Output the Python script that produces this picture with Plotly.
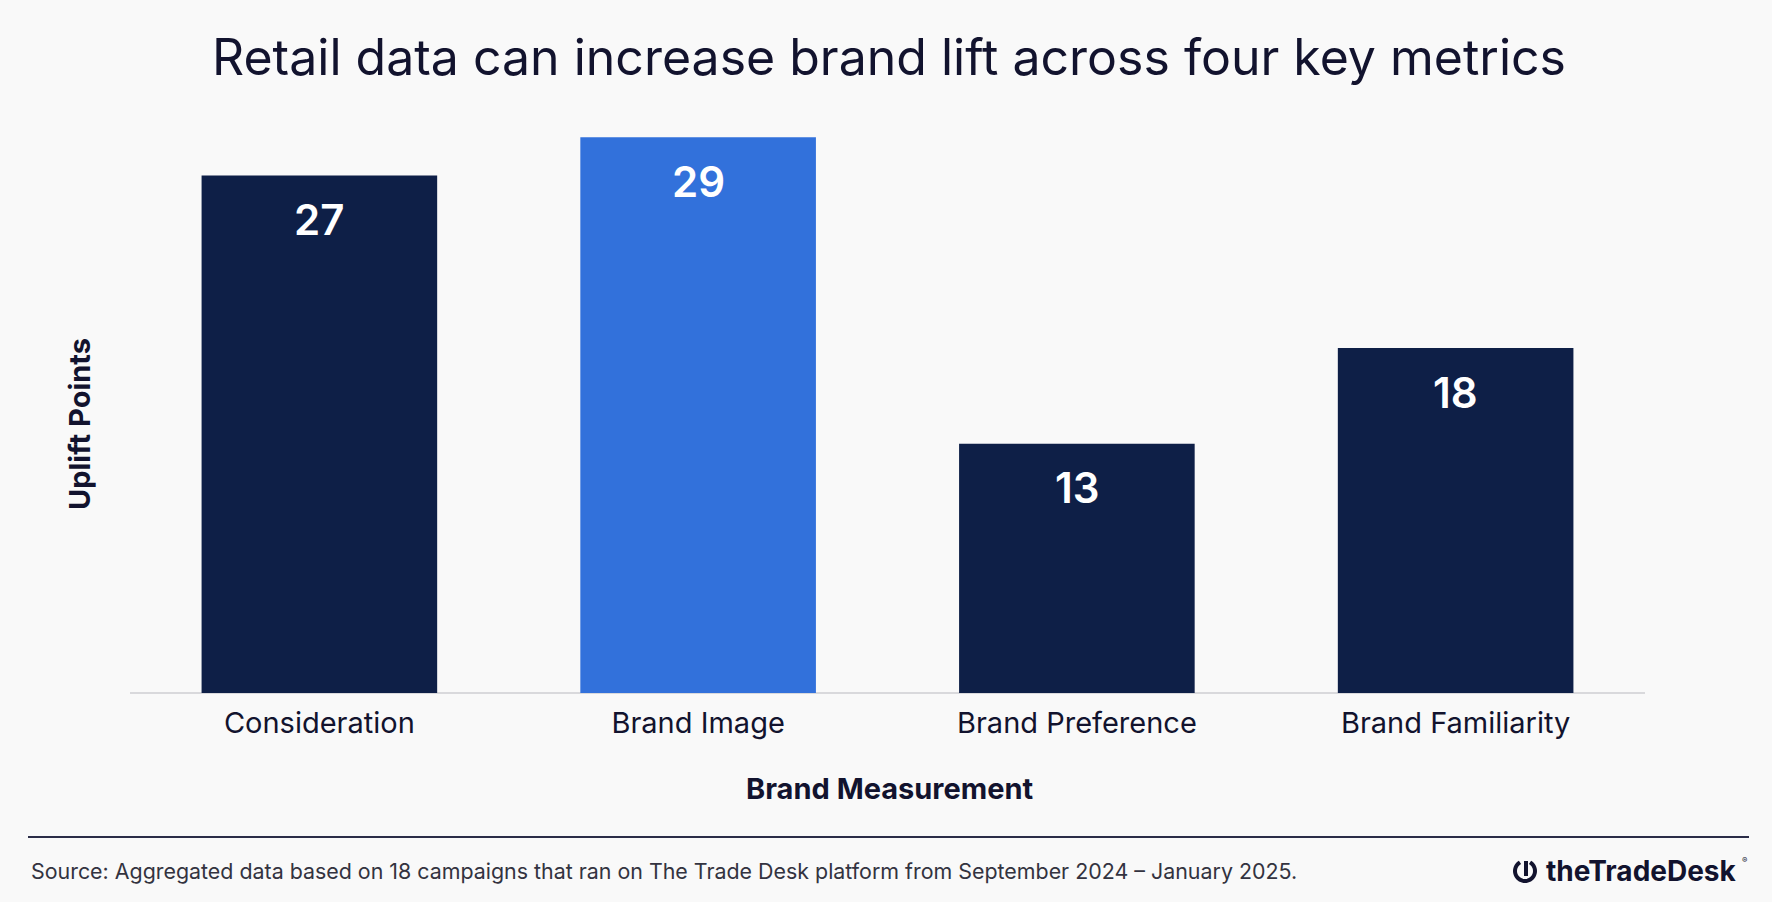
import math
import plotly.graph_objects as go

# ---- data ----
categories = ["Consideration", "Brand Image", "Brand Preference", "Brand Familiarity"]
uplift = [27, 29, 13, 18]
highlight = "Brand Image"

title_text = "Retail data can increase brand lift across four key metrics"
x_title = "Brand Measurement"
y_title = "Uplift Points"
source_text = ("Source: Aggregated data based on 18 campaigns that ran on The Trade Desk "
               "platform from September 2024 \u2013 January 2025.")
logo_text = "theTradeDesk"

# ---- style ----
W, H = 1772, 902
ML, MR, MT, MB = 130, 127, 118, 209
NAVY = "#0e1f47"
BLUE = "#3271db"
INK = "#12132e"
BG = "#f9f9f9"
FONT = "Inter"

PW = W - ML - MR
PH = H - MT - MB


def px(x):
    return (x - ML) / PW


def py(y):
    return (H - MB - y) / PH


colors = [BLUE if c == highlight else NAVY for c in categories]

fig = go.Figure()
fig.add_trace(go.Bar(
    x=categories, y=uplift, marker=dict(color=colors, line=dict(width=0)),
    hoverinfo="x+y", showlegend=False,
))

annotations = []
for c, v in zip(categories, uplift):
    annotations.append(dict(
        x=c, y=v, xref="x", yref="y", text=str(v), showarrow=False,
        yanchor="middle", yshift=-44,
        font=dict(family=FONT, size=42, color="white", weight=600),
    ))

annotations += [
    dict(x=px(889), y=py(57), xref="paper", yref="paper", text=title_text,
         showarrow=False, xanchor="center", yanchor="middle",
         font=dict(family=FONT, size=50, color=INK)),
    dict(x=px(890), y=py(788), xref="paper", yref="paper", text=f"<b>{x_title}</b>",
         showarrow=False, xanchor="center", yanchor="middle",
         font=dict(family=FONT, size=29, color=INK)),
    dict(x=px(79), y=py(424), xref="paper", yref="paper", text=f"<b>{y_title}</b>",
         showarrow=False, xanchor="center", yanchor="middle", textangle=-90,
         font=dict(family=FONT, size=29, color=INK)),
    dict(x=px(29), y=py(871), xref="paper", yref="paper", text=source_text,
         showarrow=False, xanchor="left", yanchor="middle",
         font=dict(family=FONT, size=21.4, color="#333340")),
    dict(x=px(1739), y=py(871), xref="paper", yref="paper", text=f"<b>{logo_text}</b>",
         showarrow=False, xanchor="right", yanchor="middle",
         font=dict(family=FONT, size=28, color=INK)),
    dict(x=px(1740), y=py(860), xref="paper", yref="paper", text="\u00ae",
         showarrow=False, xanchor="left", yanchor="middle",
         font=dict(family=FONT, size=8, color=INK)),
]

fig.update_layout(
    width=W, height=H,
    margin=dict(l=ML, r=MR, t=MT, b=MB, pad=0),
    paper_bgcolor=BG, plot_bgcolor=BG,
    bargap=0.378,
    annotations=annotations,
    xaxis=dict(
        showgrid=False, zeroline=False, showline=False, ticks="",
        tickfont=dict(family=FONT, size=29, color=INK),
        ticklabelstandoff=10, fixedrange=True,
    ),
    yaxis=dict(
        range=[0, 30], showgrid=False, zeroline=True, zerolinecolor="#d9d9dc",
        zerolinewidth=1.5, showticklabels=False, ticks="", showline=False,
        fixedrange=True,
    ),
    font=dict(family=FONT, color=INK),
)

# footer rule
fig.add_shape(type="line", xref="paper", yref="paper", x0=px(28), x1=px(1749),
              y0=py(837), y1=py(837), line=dict(color="#2b2d48", width=2))

# logo icon: ring with a gap plus a bar (decorative)
cx, cy, r = 1525, 871, 10
pts = []
for i in range(0, 41):
    a = math.radians(120 + i * (300 / 40))
    pts.append((cx + r * math.cos(a), cy - r * math.sin(a)))
path = "M " + " L ".join(f"{px(x):.5f},{py(y):.5f}" for x, y in pts)
fig.add_shape(type="path", xref="paper", yref="paper", path=path,
              line=dict(color=INK, width=4))
fig.add_shape(type="line", xref="paper", yref="paper",
              x0=px(1526), x1=px(1526), y0=py(861), y1=py(876),
              line=dict(color=INK, width=4))

fig.write_html("out.html", config={"displayModeBar": False},
               post_script="document.body.style.margin='0';")
